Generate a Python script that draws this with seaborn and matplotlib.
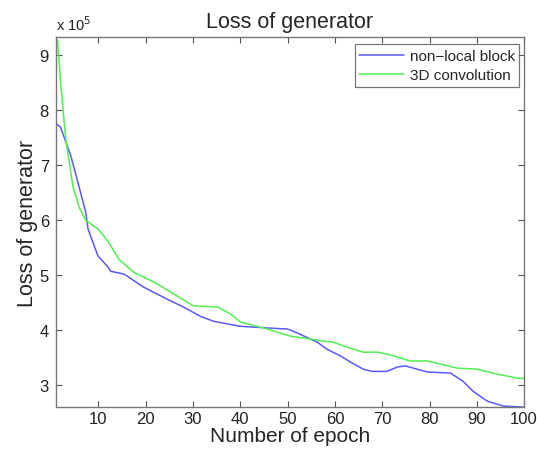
import seaborn as sns
import numpy as np
import pandas as pd
import matplotlib.pyplot as plt
from matplotlib.ticker import FuncFormatter

# values (loss in raw units)
epoch_nl = [1, 2, 4.2, 7.3, 7.8, 9.9, 12, 12.6, 15.4, 19.6, 24.6, 28, 31.6, 34.4, 40, 45.7,
            50, 52, 56.3, 58.4, 61.2, 63.3, 66, 67.9, 71, 73.2, 74.9, 77.4, 79.5, 84.4,
            87.1, 89.2, 92.2, 95.6, 100]
loss_nl = [7.76, 7.69, 7.16, 6.15, 5.84, 5.35, 5.15, 5.07, 5.02, 4.78, 4.56, 4.42, 4.25, 4.16, 4.07, 4.04,
           4.02, 3.95, 3.78, 3.65, 3.53, 3.42, 3.29, 3.25, 3.25, 3.33, 3.35, 3.29, 3.24, 3.22,
           3.07, 2.89, 2.71, 2.62, 2.60]
epoch_3d = [1, 1.4, 2, 3.1, 4.6, 5.9, 7.3, 9.9, 12, 14.3, 17.5, 20.4, 22.5, 25.3, 30.1, 35.2,
            38, 40, 45.7, 50.6, 54.8, 57.6, 59.7, 62.6, 66, 69, 71.7, 75.9, 79.5, 85.9,
            90.1, 94.3, 98.5, 100]
loss_3d = [9.33, 9.24, 8.5, 7.47, 6.62, 6.24, 6.0, 5.84, 5.62, 5.29, 5.05, 4.93, 4.84, 4.69, 4.44, 4.42,
           4.29, 4.15, 4.02, 3.89, 3.84, 3.80, 3.78, 3.69, 3.60, 3.60, 3.55, 3.44, 3.44, 3.31,
           3.29, 3.20, 3.13, 3.12]

df = pd.concat([
    pd.DataFrame({'epoch': epoch_nl, 'loss': np.array(loss_nl) * 1e5, 'model': 'non\u2212local block'}),
    pd.DataFrame({'epoch': epoch_3d, 'loss': np.array(loss_3d) * 1e5, 'model': '3D convolution'}),
])

sns.set_style('white')
plt.rcParams['font.family'] = ['Liberation Sans', 'DejaVu Sans']

fig = plt.figure(figsize=(5.37, 4.52), dpi=100)
ax = fig.add_axes([0.104, 0.097, 0.872, 0.819])

sns.lineplot(data=df, x='epoch', y='loss', hue='model', sort=False, ax=ax,
             palette=['#5a5aff', '#50f050'], linewidth=1.1)

ax.set_xlim(1, 100)
ax.set_ylim(2.6e5, 9.33e5)
ax.set_xticks(range(10, 101, 10))
ax.set_yticks(np.arange(3, 10) * 1e5)
ax.yaxis.set_major_formatter(FuncFormatter(lambda v, p: '%d' % round(v / 1e5)))
ax.tick_params(direction='in', bottom=True, left=True, top=True, right=True, length=4, width=0.8,
               color='#555555', labelsize=12, labelcolor='#222222', pad=3)
ax.tick_params(axis='y', pad=5)
for s in ax.spines.values():
    s.set_color('#777777')
    s.set_linewidth(1.0)

ax.text(0.0, 1.012, 'x 10$^5$', transform=ax.transAxes, fontsize=10.5, ha='left', va='bottom',
        color='#222222')
ax.set_title('Loss of generator', fontsize=15.5, pad=7)
ax.set_xlabel('Number of epoch', fontsize=15, labelpad=0)
ax.set_ylabel('Loss of generator', fontsize=15.5, labelpad=1)

leg = ax.legend(loc='upper right', fontsize=11, frameon=True, fancybox=False,
                bbox_to_anchor=(0.99, 0.98), borderaxespad=0, handlelength=2.9,
                handletextpad=0.4, borderpad=0.3, labelspacing=0.35)
leg.get_frame().set_edgecolor('#555555')
leg.get_frame().set_linewidth(0.9)

fig.savefig('out.png', dpi=100)
